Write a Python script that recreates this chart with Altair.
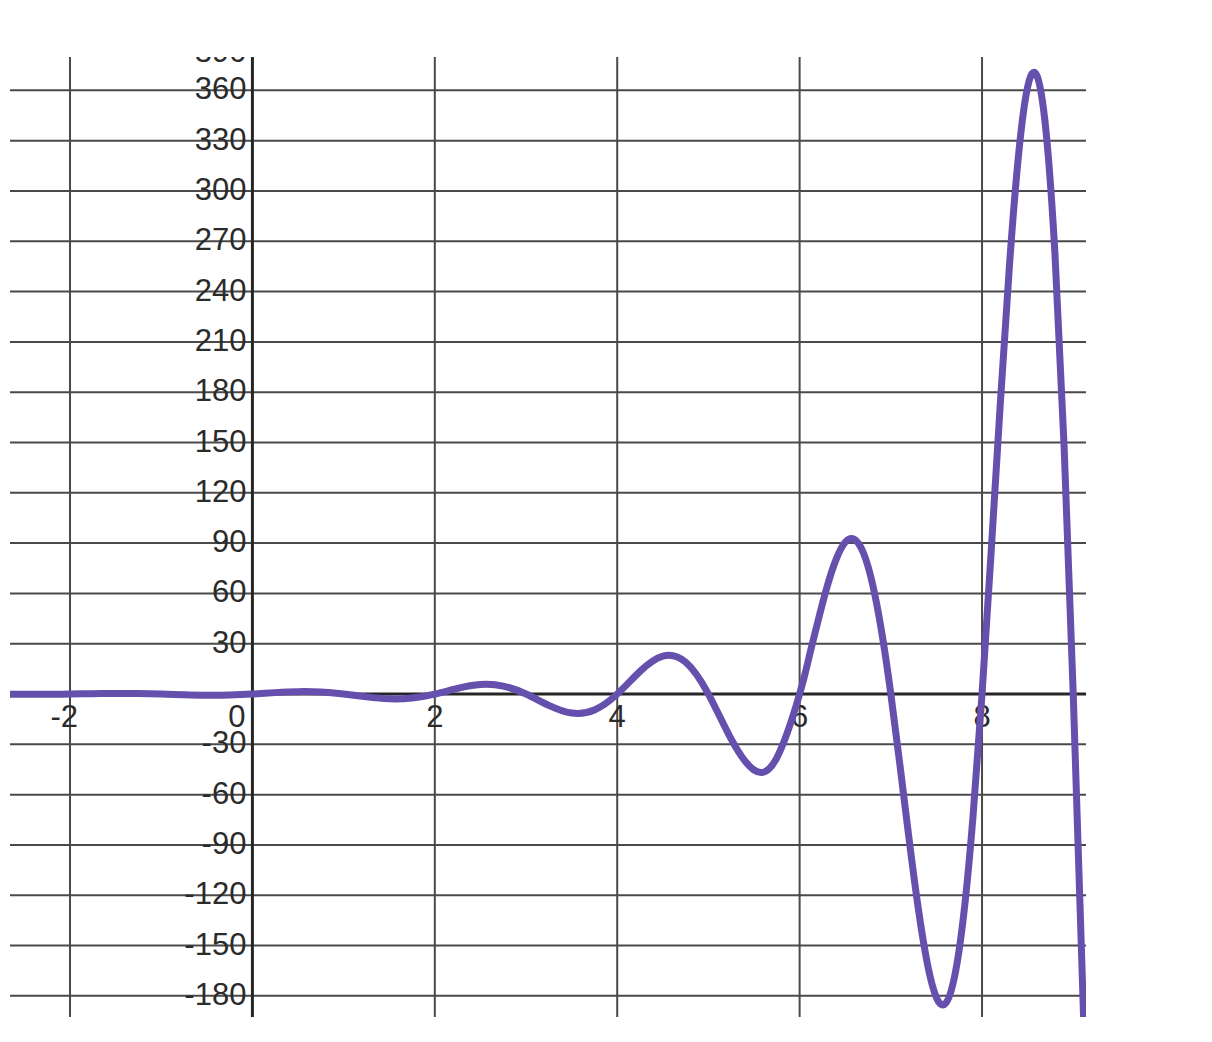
import altair as alt
import pandas as pd

# curve values
x_vals = [-2.75, -2.5, -2.25, -2.0, -1.75, -1.5, -1.25, -1.0, -0.75, -0.5, -0.25,
          0.0, 0.25, 0.5, 0.75, 1.0, 1.25, 1.5, 1.75, 2.0, 2.25, 2.5, 2.75,
          3.0, 3.25, 3.5, 3.75, 4.0, 4.25, 4.5, 4.75, 5.0, 5.25, 5.5, 5.75,
          6.0, 6.1, 6.2, 6.3, 6.4, 6.5, 6.6, 6.7, 6.8, 6.9,
          7.0, 7.1, 7.2, 7.3, 7.4, 7.5, 7.6, 7.7, 7.8, 7.9,
          8.0, 8.1, 8.2, 8.3, 8.4, 8.5, 8.6, 8.7, 8.8, 8.9,
          9.0, 9.1, 9.2]
y_vals = [-0.11, -0.18, -0.15, 0.0, 0.21, 0.35, 0.30, 0.0, -0.42, -0.71, -0.59,
          0.0, 0.84, 1.41, 1.19, 0.0, -1.68, -2.83, -2.38, 0.0, 3.36, 5.66, 4.76,
          0.0, -6.73, -11.3, -9.51, 0.0, 13.5, 22.6, 19.0, 0.0, -26.9, -45.3, -38.0,
          0.0, 21.2, 43.2, 63.8, 80.3, 90.5, 92.2, 84.1, 65.5, 36.9,
          0.0, -42.4, -86.4, -127.5, -160.6, -181.0, -184.5, -168.2, -131.1, -73.8,
          0.0, 84.8, 172.9, 255.0, 321.3, 362.0, 369.0, 336.5, 262.1, 147.6,
          0.0, -169.6, -345.9]

x_grid = [-2, 2, 4, 6, 8]
y_grid = [-180, -150, -120, -90, -60, -30, 30, 60, 90, 120, 150, 180,
          210, 240, 270, 300, 330, 360]
x_pos_labels = [2, 4, 6, 8]
x_neg_labels = [-2]
y_top_label = [390]

X_DOMAIN = [-2.658, 9.14]
Y_DOMAIN = [-192.6, 379.9]

xs = alt.Scale(domain=X_DOMAIN, nice=False, zero=False)
ys = alt.Scale(domain=Y_DOMAIN, nice=False, zero=False)

FONT = "Liberation Sans"
FS = 31
TEXT_COLOR = "#2b2b2b"
GRID_COLOR = "#4a4a4a"
AXIS_COLOR = "#262626"
CURVE_COLOR = "#6650ad"

curve_df = pd.DataFrame({"x": x_vals, "y": y_vals})
vgrid_df = pd.DataFrame({"v": x_grid})
hgrid_df = pd.DataFrame({"v": y_grid})
axis_df = pd.DataFrame({"v": [0]})
ylab_df = pd.DataFrame({"v": y_grid, "x0": [0] * len(y_grid), "t": [str(v) for v in y_grid]})
xlab_df = pd.DataFrame({"v": x_pos_labels, "y0": [0] * len(x_pos_labels), "t": [str(v) for v in x_pos_labels]})
xneg_df = pd.DataFrame({"v": x_neg_labels, "y0": [0] * len(x_neg_labels), "t": [str(v) for v in x_neg_labels]})
zero_df = pd.DataFrame({"v": [0], "y0": [0], "t": ["0"]})
top_df = pd.DataFrame({"v": y_top_label, "x0": [0], "t": [str(v) for v in y_top_label]})

vgrid = alt.Chart(vgrid_df).mark_rule(color=GRID_COLOR, strokeWidth=2).encode(
    x=alt.X("v:Q", scale=xs, axis=None))
hgrid = alt.Chart(hgrid_df).mark_rule(color=GRID_COLOR, strokeWidth=2).encode(
    y=alt.Y("v:Q", scale=ys, axis=None))
yaxis = alt.Chart(axis_df).mark_rule(color=AXIS_COLOR, strokeWidth=3).encode(
    x=alt.X("v:Q", scale=xs, axis=None))
xaxis = alt.Chart(axis_df).mark_rule(color=AXIS_COLOR, strokeWidth=3).encode(
    y=alt.Y("v:Q", scale=ys, axis=None))

ylabels = alt.Chart(ylab_df).mark_text(
    align="right", baseline="middle", dx=-6, fontSize=FS, font=FONT, color=TEXT_COLOR
).encode(x=alt.X("x0:Q", scale=xs, axis=None), y=alt.Y("v:Q", scale=ys, axis=None), text="t:N")

toplabel = alt.Chart(top_df).mark_text(
    align="right", baseline="middle", dx=-6, dy=13, fontSize=FS, font=FONT,
    color=TEXT_COLOR, clip=True
).encode(x=alt.X("x0:Q", scale=xs, axis=None), y=alt.Y("v:Q", scale=ys, axis=None), text="t:N")

xlabels = alt.Chart(xlab_df).mark_text(
    align="center", baseline="middle", dy=24, fontSize=FS, font=FONT, color=TEXT_COLOR
).encode(x=alt.X("v:Q", scale=xs, axis=None), y=alt.Y("y0:Q", scale=ys, axis=None), text="t:N")

xneg = alt.Chart(xneg_df).mark_text(
    align="right", baseline="middle", dx=8, dy=24, fontSize=FS, font=FONT, color=TEXT_COLOR
).encode(x=alt.X("v:Q", scale=xs, axis=None), y=alt.Y("y0:Q", scale=ys, axis=None), text="t:N")

zerolabel = alt.Chart(zero_df).mark_text(
    align="right", baseline="middle", dx=-7, dy=24, fontSize=FS, font=FONT, color=TEXT_COLOR
).encode(x=alt.X("v:Q", scale=xs, axis=None), y=alt.Y("y0:Q", scale=ys, axis=None), text="t:N")

curve = alt.Chart(curve_df).mark_line(
    color=CURVE_COLOR, strokeWidth=7, interpolate="natural", clip=True
).encode(x=alt.X("x:Q", scale=xs, axis=None), y=alt.Y("y:Q", scale=ys, axis=None))

chart = alt.layer(
    vgrid, hgrid, yaxis, xaxis, ylabels, toplabel, xlabels, xneg, zerolabel, curve
).properties(
    width=1076, height=960,
    autosize=alt.AutoSizeParams(type="none"),
    padding={"left": 2, "top": 49, "right": 10, "bottom": 10},
).configure_view(strokeWidth=0)

chart.save("out.html", embed_options={"renderer": "svg", "actions": False})
